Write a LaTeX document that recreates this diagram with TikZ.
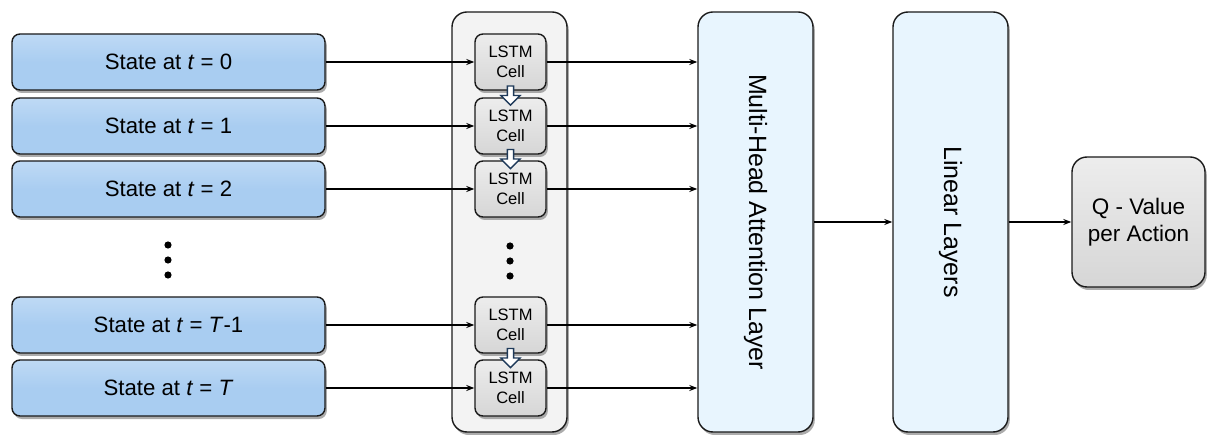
\documentclass[tikz,border=0pt]{standalone}
\usepackage{fontspec}
\setmainfont{Liberation Sans}
\usetikzlibrary{
  arrows.meta,
  shapes.arrows,
  positioning,
  calc,
  shadows
}
\definecolor{lsState}{HTML}{A9CDF1}
\definecolor{lsCell}{HTML}{D6D6D6}
\definecolor{lsStack}{HTML}{F3F3F3}
\definecolor{lsLayer}{HTML}{E8F5FE}
\definecolor{lsOut}{HTML}{D6D6D6}
\definecolor{lsEdge}{HTML}{1A1A1A}
\definecolor{lsDown}{HTML}{1F3A5A}
\tikzset{
  lsnode/.style={
    draw=lsEdge, line width=1.4pt, align=center, inner sep=0pt,
    drop shadow={shadow xshift=1.8pt, shadow yshift=-3pt, opacity=0.65}
  },
  state/.style={lsnode, top color=lsState!75!white, bottom color=lsState,
    middle color=lsState, rounded corners=8pt, minimum width=313pt,
    minimum height=56pt, font=\fontsize{22.2}{26}\selectfont},
  cell/.style={lsnode, top color=lsCell!45!white, bottom color=lsCell,
    rounded corners=8pt, minimum width=71pt, minimum height=56pt,
    font=\fontsize{16.5}{20}\selectfont},
  stack/.style={lsnode, fill=lsStack, rounded corners=15pt, minimum width=115pt,
    minimum height=420pt},
  layer/.style={lsnode, fill=lsLayer, rounded corners=15pt, minimum width=115pt,
    minimum height=420pt, font=\fontsize{25}{28}\selectfont},
  outbox/.style={lsnode, top color=lsOut!45!white, bottom color=lsOut,
    rounded corners=15pt, minimum width=133pt, minimum height=130pt,
    font=\fontsize{22.5}{27}\selectfont},
  downarrow/.style={single arrow, shape border rotate=270, draw=lsDown, fill=white,
    line width=1.4pt, minimum width=19pt, minimum height=19pt,
    single arrow head extend=4pt, single arrow head indent=0pt, inner sep=1.2pt},
  link/.style={-{Stealth[length=8pt, width=6pt]}, line width=1.3pt, black}
}

\begin{document}
\begin{tikzpicture}[x=1pt, y=-1pt]
  \useasboundingbox (0,0) rectangle (1210,435);

  % LSTM column
  \node[stack] (col) at (509.5,222) {};
  \node[cell] (c0) at (510.5,62) {LSTM\\Cell};
  \node[cell] (c1) at (510.5,126) {LSTM\\Cell};
  \node[cell] (c2) at (510.5,189) {LSTM\\Cell};
  \node[cell] (c3) at (510.5,325) {LSTM\\Cell};
  \node[cell] (c4) at (510.5,388) {LSTM\\Cell};
  \node[downarrow] (d01) at ($(c0.south)!0.5!(c1.north)$) {};
  \node[downarrow] (d12) at ($(c1.south)!0.5!(c2.north)$) {};
  \node[downarrow] (d34) at ($(c3.south)!0.5!(c4.north)$) {};
  \foreach \y in {246,261,276} \fill (510,\y) circle (3.6pt);

  % input states
  \node[state] (s0) at (168.5,62) {State at \textit{t} = 0};
  \node[state] (s1) at (168.5,126) {State at \textit{t} = 1};
  \node[state] (s2) at (168.5,189) {State at \textit{t} = 2};
  \node[state] (s3) at (168.5,325) {State at \textit{t} = \textit{T}-1};
  \node[state] (s4) at (168.5,388) {State at \textit{t} = \textit{T}};
  \foreach \y in {245,260,275} \fill (168,\y) circle (3.6pt);

  % layers and output
  \node[layer] (attn) at (755.5,222) {\rotatebox{-90}{Multi-Head Attention Layer}};
  \node[layer] (lin) at (950.5,222) {\rotatebox{-90}{Linear Layers}};
  \node[outbox] (qval) at (1138.5,222) {Q - Value\\per Action};

  \draw[link] (s0) -- (c0);
  \draw[link] (s1) -- (c1);
  \draw[link] (s2) -- (c2);
  \draw[link] (s3) -- (c3);
  \draw[link] (s4) -- (c4);
  \draw[link] (c0) -- (c0 -| attn.west);
  \draw[link] (c1) -- (c1 -| attn.west);
  \draw[link] (c2) -- (c2 -| attn.west);
  \draw[link] (c3) -- (c3 -| attn.west);
  \draw[link] (c4) -- (c4 -| attn.west);
  \draw[link] (attn) -- (lin);
  \draw[link] (lin) -- (qval);
\end{tikzpicture}
\end{document}
